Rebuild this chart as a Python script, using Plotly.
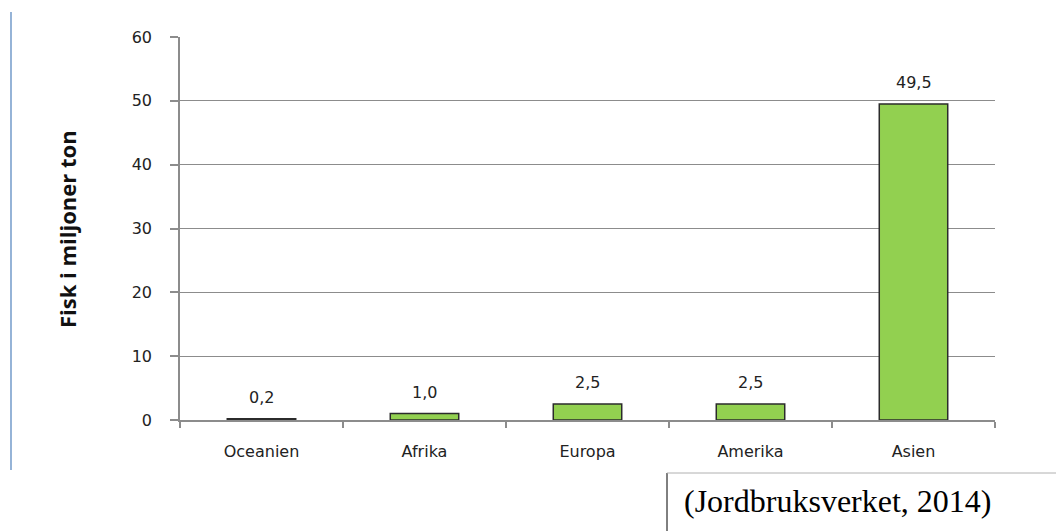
import plotly.graph_objects as go

categories = ["Oceanien", "Afrika", "Europa", "Amerika", "Asien"]
values = [0.2, 1.0, 2.5, 2.5, 49.5]
labels = ["0,2", "1,0", "2,5", "2,5", "49,5"]
y_ticks = [0, 10, 20, 30, 40, 50, 60]

W, H = 1056, 531
L, R, T, B = 180, 995, 37, 420
pw, ph = R - L, B - T

def px(x):
    return (x - L) / pw

def py(y):
    return (B - y) / ph

font = "DejaVu Sans, Verdana, sans-serif"

fig = go.Figure(go.Bar(
    x=categories, y=values, width=0.42,
    marker=dict(color="#92D050", line=dict(color="#2b2b2b", width=1.5)),
))

for c, v, t in zip(categories, values, labels):
    fig.add_annotation(x=c, y=v, text=t, showarrow=False, yanchor="bottom", yshift=10,
                       font=dict(family=font, size=16, color="#222"))

fig.update_layout(
    width=W, height=H,
    margin=dict(l=L, r=W - R, t=T, b=H - B),
    paper_bgcolor="white", plot_bgcolor="white",
    showlegend=False,
    xaxis=dict(
        type="category", showgrid=False, showline=True, linecolor="#8c8c8c", linewidth=1.5,
        ticks="outside", tickson="boundaries", ticklen=6, tickcolor="#8c8c8c", tickwidth=1.5,
        tickfont=dict(family=font, size=16, color="#222"), ticklabelstandoff=16,
    ),
    yaxis=dict(
        range=[0, 60], tickvals=y_ticks, ticktext=[str(v) for v in y_ticks],
        showgrid=True, gridcolor="#8c8c8c", gridwidth=1,
        showline=True, linecolor="#8c8c8c", linewidth=1.5,
        ticks="outside", ticklen=8, tickcolor="#8c8c8c", tickwidth=1.5,
        tickfont=dict(family=font, size=16, color="#222"), ticklabelstandoff=15,
        zeroline=False,
    ),
)

fig.add_annotation(
    text="<b>Fisk i miljoner ton</b>", x=px(67), y=py(229), xref="paper", yref="paper",
    xanchor="center", yanchor="middle",
    textangle=-90, showarrow=False, font=dict(family="Open Sans, sans-serif", size=22, color="#111"),
)

fig.add_annotation(
    text="(Jordbruksverket, 2014)", x=px(682), y=py(501), xref="paper", yref="paper",
    xanchor="left", yanchor="middle", showarrow=False,
    font=dict(family="Liberation Serif, Times New Roman, serif", size=32, color="#000"),
)

# blue vertical line at left
fig.add_shape(type="line", xref="paper", yref="paper", x0=px(11), x1=px(11),
              y0=py(12), y1=py(470), line=dict(color="#4f81bd", width=1.2))
# citation box lines
fig.add_shape(type="line", xref="paper", yref="paper", x0=px(667), x1=px(667),
              y0=py(473), y1=py(531), line=dict(color="#000", width=1))
fig.add_shape(type="line", xref="paper", yref="paper", x0=px(667), x1=px(1056),
              y0=py(473), y1=py(473), line=dict(color="#b0b0b0", width=1))

fig.write_html("out.html")
